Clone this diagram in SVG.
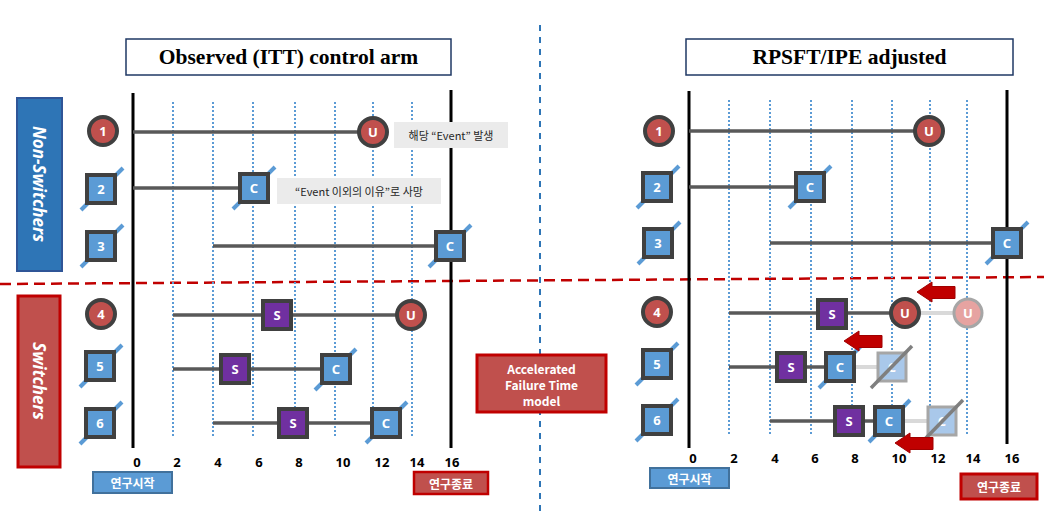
<svg xmlns="http://www.w3.org/2000/svg" xmlns:xlink="http://www.w3.org/1999/xlink" width="1044" height="523" viewBox="0 0 1044 523">
<style>
.title{fill:#fff;stroke:#1f3864;stroke-width:1.5}
.ttext{font-family:"Liberation Serif",serif;font-weight:bold;font-size:21.5px;fill:#000;text-anchor:middle}
.axis{stroke:#000;stroke-width:3}
.dot{stroke:#5b9bd5;stroke-width:2;stroke-dasharray:2 2}
.tl{stroke:#595959;stroke-width:3.5}
.fadeline{stroke:#d9d9d9;stroke-width:4}
.circ{fill:#c0504d;stroke:#404040;stroke-width:4}
.sq{fill:#5b9bd5;stroke:#404040;stroke-width:4}
.sS{fill:#7030a0;stroke:#404040;stroke-width:4}
.fcirc{fill:#e6a3a1;stroke:#a6a6a6;stroke-width:3}
.fsq{fill:#a9c8ea;stroke:#a6a6a6;stroke-width:3}
.slash{stroke:#5b9bd5;stroke-width:4}
.gslash{stroke:#7f7f7f;stroke-width:3.5}
.nl{font-family:"Noto Sans","Noto Sans CJK KR",sans-serif;font-weight:bold;font-size:13px;fill:#fff;text-anchor:middle;dominant-baseline:central}
.fl{font-family:"Noto Sans","Noto Sans CJK KR",sans-serif;font-weight:bold;font-size:13px;fill:#fff;text-anchor:middle;dominant-baseline:central}
.tick{font-family:"Noto Sans",sans-serif;font-weight:bold;font-size:13px;fill:#000;text-anchor:middle;dominant-baseline:central}
.note{fill:#ebebeb}
.nt{font-family:"Noto Sans CJK KR",sans-serif;font-size:11px;fill:#262626;text-anchor:middle;dominant-baseline:central}
.kb{font-family:"Noto Sans CJK KR",sans-serif;font-weight:bold;font-size:12px;fill:#fff;text-anchor:middle;dominant-baseline:central}
.grp{font-family:"Noto Sans","Liberation Sans",sans-serif;font-weight:bold;font-style:italic;font-size:17px;fill:#fff;text-anchor:middle;dominant-baseline:central}
.arrow{fill:#c00000;stroke:#a00000;stroke-width:1}
</style>
<defs>
<polygon id="arr" points="0,0 15,-10 15,-5.5 38,-5.5 38,6.5 15,6.5 15,10"/>
</defs>

<g id="separators">
<line x1="540" y1="25" x2="540" y2="512" stroke="#2e75b6" stroke-width="2" stroke-dasharray="6 6"/>
<line x1="0" y1="284" x2="1044" y2="277" stroke="#c00000" stroke-width="2.5" stroke-dasharray="11 6"/>
</g>

<g id="grp-nonswitchers">
<rect x="17" y="98" width="45" height="173" fill="#2e75b6" stroke="#2f5597" stroke-width="2"/>
<text class="grp" transform="translate(39.5,184) rotate(90)">Non-Switchers</text>
</g>
<g id="grp-switchers">
<rect x="18" y="296" width="42" height="171" fill="#c0504d" stroke="#c00000" stroke-width="3"/>
<text class="grp" transform="translate(39,381) rotate(90)">Switchers</text>
</g>

<g id="title-left">
<rect class="title" x="126" y="39" width="325" height="36"/>
<text class="ttext" x="288.5" y="64">Observed (ITT) control arm</text>
</g>
<g id="title-right">
<rect class="title" x="686" y="39" width="327" height="36"/>
<text class="ttext" x="849.5" y="64">RPSFT/IPE adjusted</text>
</g>

<g id="axes-left">
<line class="axis" x1="133" y1="93" x2="133" y2="448"/>
<line class="axis" x1="451" y1="90" x2="451" y2="448"/>
<line class="dot" x1="173" y1="102" x2="173" y2="438"/>
<line class="dot" x1="213" y1="102" x2="213" y2="438"/>
<line class="dot" x1="253" y1="102" x2="253" y2="438"/>
<line class="dot" x1="295" y1="102" x2="295" y2="438"/>
<line class="dot" x1="335" y1="102" x2="335" y2="438"/>
<line class="dot" x1="373" y1="102" x2="373" y2="438"/>
<line class="dot" x1="412" y1="102" x2="412" y2="438"/>
<text class="tick" x="137" y="462">0</text>
<text class="tick" x="177" y="462">2</text>
<text class="tick" x="218" y="462">4</text>
<text class="tick" x="259" y="462">6</text>
<text class="tick" x="299" y="462">8</text>
<text class="tick" x="343" y="462">10</text>
<text class="tick" x="382" y="462">12</text>
<text class="tick" x="417" y="462">14</text>
<text class="tick" x="452" y="462">16</text>
</g>

<g id="axes-right">
<line class="axis" x1="689" y1="91" x2="689" y2="448"/>
<line class="axis" x1="1007" y1="90" x2="1007" y2="444"/>
<line class="dot" x1="729" y1="100" x2="729" y2="435"/>
<line class="dot" x1="770" y1="100" x2="770" y2="435"/>
<line class="dot" x1="811" y1="100" x2="811" y2="435"/>
<line class="dot" x1="852" y1="100" x2="852" y2="435"/>
<line class="dot" x1="892" y1="100" x2="892" y2="435"/>
<line class="dot" x1="930" y1="100" x2="930" y2="435"/>
<line class="dot" x1="967" y1="100" x2="967" y2="435"/>
<text class="tick" x="693" y="458">0</text>
<text class="tick" x="734" y="458">2</text>
<text class="tick" x="775" y="458">4</text>
<text class="tick" x="815" y="458">6</text>
<text class="tick" x="855" y="458">8</text>
<text class="tick" x="899" y="458">10</text>
<text class="tick" x="938" y="458">12</text>
<text class="tick" x="973" y="458">14</text>
<text class="tick" x="1012" y="458">16</text>
</g>

<g id="connectors">
<line class="tl" x1="133" y1="132" x2="373" y2="132"/>
<line class="tl" x1="133" y1="188" x2="254" y2="188"/>
<line class="tl" x1="213" y1="246" x2="450" y2="246"/>
<line class="tl" x1="173" y1="315" x2="411" y2="315"/>
<line class="tl" x1="173" y1="369" x2="336" y2="369"/>
<line class="tl" x1="213" y1="423" x2="386" y2="423"/>
<line class="tl" x1="689" y1="131" x2="930" y2="131"/>
<line class="tl" x1="689" y1="187" x2="810" y2="187"/>
<line class="tl" x1="770" y1="243" x2="1007" y2="243"/>
<line class="tl" x1="729" y1="313" x2="905" y2="313"/>
<line class="fadeline" x1="905" y1="313" x2="968" y2="313"/>
<line class="tl" x1="729" y1="367" x2="840" y2="367"/>
<line class="fadeline" x1="840" y1="367" x2="892" y2="367"/>
<line class="tl" x1="770" y1="421" x2="889" y2="421"/>
<line class="fadeline" x1="889" y1="421" x2="942" y2="421"/>
</g>

<g id="L-row1"><circle class="circ" cx="103" cy="131" r="14"/><text class="nl" x="103" y="131">1</text></g>
<g id="L-row2"><line class="slash" x1="81" y1="210" x2="123" y2="168"/><rect class="sq" x="87" y="175" width="28" height="28"/><text class="nl" x="101" y="189">2</text></g>
<g id="L-row3"><line class="slash" x1="81" y1="267" x2="123" y2="225"/><rect class="sq" x="87" y="232" width="28" height="28"/><text class="nl" x="101" y="246">3</text></g>
<g id="L-row4"><circle class="circ" cx="101" cy="314" r="14"/><text class="nl" x="101" y="314">4</text></g>
<g id="L-row5"><line class="slash" x1="80" y1="387" x2="122" y2="345"/><rect class="sq" x="86" y="352" width="28" height="28"/><text class="nl" x="100" y="366">5</text></g>
<g id="L-row6"><line class="slash" x1="80" y1="444" x2="122" y2="402"/><rect class="sq" x="86" y="409" width="28" height="28"/><text class="nl" x="100" y="423">6</text></g>

<g id="L-U1"><circle class="circ" cx="373" cy="132" r="14"/><text class="nl" x="373" y="132">U</text></g>
<g id="L-C2"><line class="slash" x1="233" y1="209" x2="275" y2="167"/><rect class="sq" x="240" y="174" width="28" height="28"/><text class="nl" x="254" y="188">C</text></g>
<g id="L-C3"><line class="slash" x1="429" y1="267" x2="471" y2="225"/><rect class="sq" x="436" y="232" width="28" height="28"/><text class="nl" x="450" y="246">C</text></g>
<g id="L-S4"><rect class="sS" x="263" y="301" width="28" height="28"/><text class="nl" x="277" y="315">S</text></g>
<g id="L-U4"><circle class="circ" cx="411" cy="315" r="14"/><text class="nl" x="411" y="315">U</text></g>
<g id="L-S5"><rect class="sS" x="221" y="355" width="28" height="28"/><text class="nl" x="235" y="369">S</text></g>
<g id="L-C5"><line class="slash" x1="315" y1="390" x2="356" y2="349"/><rect class="sq" x="322" y="355" width="28" height="28"/><text class="nl" x="336" y="369">C</text></g>
<g id="L-S6"><rect class="sS" x="279" y="409" width="28" height="28"/><text class="nl" x="293" y="423">S</text></g>
<g id="L-C6"><line class="slash" x1="366" y1="443" x2="407" y2="402"/><rect class="sq" x="372" y="409" width="28" height="28"/><text class="nl" x="386" y="423">C</text></g>

<g id="note-event"><rect class="note" x="394" y="122" width="114" height="26"/><text class="nt" x="451" y="135">해당 “Event” 발생</text></g>
<g id="note-other"><rect class="note" x="277" y="178" width="164" height="26"/><text class="nt" x="359" y="191">“Event 이외의 이유”로 사망</text></g>

<g id="R-row1"><circle class="circ" cx="659" cy="131" r="14"/><text class="nl" x="659" y="131">1</text></g>
<g id="R-row2"><line class="slash" x1="637" y1="208" x2="679" y2="166"/><rect class="sq" x="643" y="173" width="28" height="28"/><text class="nl" x="657" y="187">2</text></g>
<g id="R-row3"><line class="slash" x1="638" y1="264" x2="680" y2="222"/><rect class="sq" x="644" y="229" width="28" height="28"/><text class="nl" x="658" y="243">3</text></g>
<g id="R-row4"><circle class="circ" cx="657" cy="312" r="14"/><text class="nl" x="657" y="312">4</text></g>
<g id="R-row5"><line class="slash" x1="636" y1="385" x2="678" y2="343"/><rect class="sq" x="643" y="350" width="28" height="28"/><text class="nl" x="657" y="364">5</text></g>
<g id="R-row6"><line class="slash" x1="636" y1="441" x2="678" y2="399"/><rect class="sq" x="643" y="406" width="28" height="28"/><text class="nl" x="657" y="420">6</text></g>

<g id="R-U1"><circle class="circ" cx="929" cy="131" r="14"/><text class="nl" x="929" y="131">U</text></g>
<g id="R-C2"><line class="slash" x1="789" y1="208" x2="831" y2="166"/><rect class="sq" x="796" y="173" width="28" height="28"/><text class="nl" x="810" y="187">C</text></g>
<g id="R-C3"><line class="slash" x1="986" y1="264" x2="1028" y2="222"/><rect class="sq" x="993" y="229" width="28" height="28"/><text class="nl" x="1007" y="243">C</text></g>
<g id="R-S4"><rect class="sS" x="818" y="300" width="28" height="28"/><text class="nl" x="832" y="314">S</text></g>
<g id="R-U4"><circle class="circ" cx="905" cy="313" r="14"/><text class="nl" x="905" y="313">U</text></g>
<g id="R-U4-orig"><circle class="fcirc" cx="968" cy="313" r="14"/><text class="fl" x="968" y="313">U</text></g>
<g id="R-S5"><rect class="sS" x="777" y="353" width="28" height="28"/><text class="nl" x="791" y="367">S</text></g>
<g id="R-C5"><line class="slash" x1="819" y1="388" x2="861" y2="346"/><rect class="sq" x="826" y="353" width="28" height="28"/><text class="nl" x="840" y="367">C</text></g>
<g id="R-C5-orig"><rect class="fsq" x="878" y="353" width="28" height="28"/><text class="fl" x="892" y="367">C</text><line class="gslash" x1="871" y1="388" x2="912" y2="346"/></g>
<g id="R-S6"><rect class="sS" x="835" y="407" width="28" height="28"/><text class="nl" x="849" y="421">S</text></g>
<g id="R-C6"><line class="slash" x1="869" y1="442" x2="910" y2="400"/><rect class="sq" x="875" y="407" width="28" height="28"/><text class="nl" x="889" y="421">C</text></g>
<g id="R-C6-orig"><rect class="fsq" x="928" y="407" width="28" height="28"/><text class="fl" x="942" y="421">C</text><line class="gslash" x1="924" y1="440" x2="963" y2="400"/></g>

<g id="shift-arrows">
<use xlink:href="#arr" href="#arr" class="arrow" x="917" y="292"/>
<use xlink:href="#arr" href="#arr" class="arrow" x="844" y="341"/>
<use xlink:href="#arr" href="#arr" class="arrow" x="895" y="443"/>
</g>

<g id="aft">
<rect x="477" y="355" width="129" height="57" fill="#c0504d" stroke="#c00000" stroke-width="3"/>
<text class="kb" x="541.5" y="368" font-family="Noto Sans, sans-serif">Accelerated</text>
<text class="kb" x="541.5" y="384" font-family="Noto Sans, sans-serif">Failure Time</text>
<text class="kb" x="541.5" y="400" font-family="Noto Sans, sans-serif">model</text>
</g>

<g id="L-start"><rect x="93" y="472" width="79" height="21" fill="#5b9bd5" stroke="#41719c" stroke-width="2"/><text class="kb" x="132.5" y="482.5">연구시작</text></g>
<g id="L-end"><rect x="414" y="472" width="74" height="22" fill="#c0504d" stroke="#c00000" stroke-width="2.5"/><text class="kb" x="451" y="483">연구종료</text></g>
<g id="R-start"><rect x="650" y="468" width="79" height="20" fill="#5b9bd5" stroke="#41719c" stroke-width="2"/><text class="kb" x="689.5" y="478">연구시작</text></g>
<g id="R-end"><rect x="961" y="474" width="76" height="25" fill="#c0504d" stroke="#c00000" stroke-width="3"/><text class="kb" x="999" y="486.5">연구종료</text></g>
</svg>
